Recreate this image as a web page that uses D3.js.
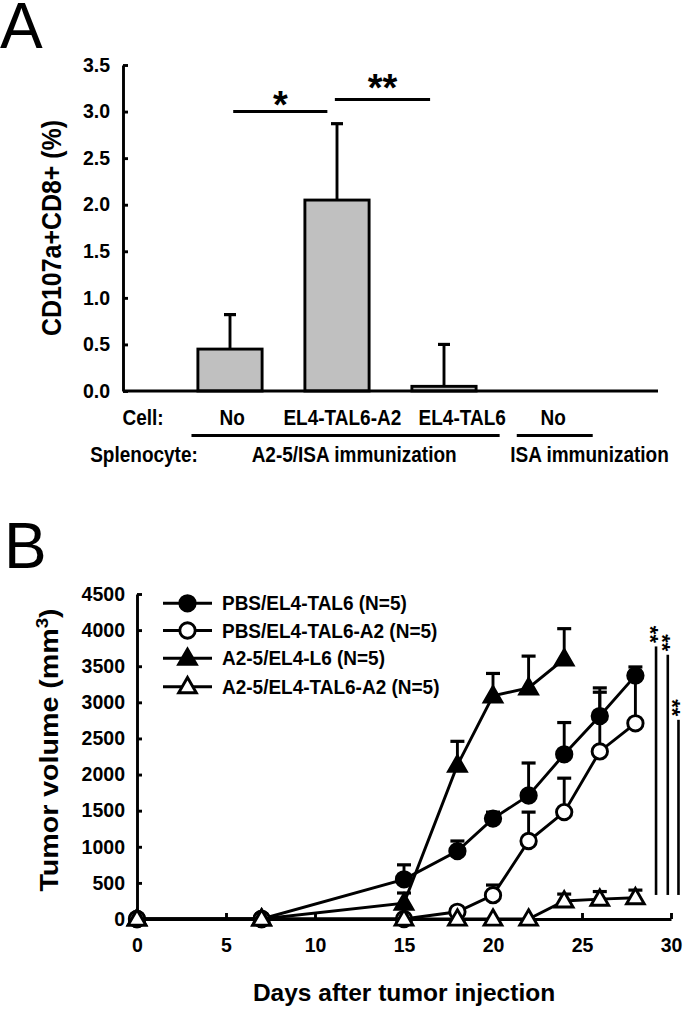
<!DOCTYPE html>
<html><head><meta charset="utf-8">
<script src="https://cdn.jsdelivr.net/npm/d3@7"></script>
<style>
html,body{margin:0;padding:0;background:#fff;}
svg{display:block;}
text{font-family:"Liberation Sans",Arial,sans-serif;font-weight:bold;fill:#000;}
</style></head>
<body>
<script>
// ---------- Panel A data ----------
const catLabels = ["No", "EL4-TAL6-A2", "EL4-TAL6", "No"];
const catLabelPos = [1.02, 2.05, 3.17, 4.02];
const barPos = [1, 2, 3, 4];
const barValues = [0.45, 2.05, 0.05, 0];
const barErrors = [0.37, 0.82, 0.45, 0];
const yTicksA = [0, 0.5, 1.0, 1.5, 2.0, 2.5, 3.0, 3.5];
const groupLabels = ["A2-5/ISA immunization", "ISA immunization"];
const groupStart = [0.64, 3.68];
const groupEnd = [3.52, 4.39];
const groupLabelPos = [2.16, 4.36];
const sigA = [
  {x1: 1.03, x2: 1.91, y: 3.0, label: "*"},
  {x1: 1.98, x2: 2.87, y: 3.13, label: "**"}
];

// ---------- Panel B data ----------
const days = [0, 7, 15, 18, 20, 22, 24, 26, 28];
const daysL6 = [0, 7, 15, 18, 20, 22, 24];
const pbsTal6 = [0, 0, 550, 940, 1390, 1710, 2280, 2810, 3370];
const pbsTal6Err = [0, 0, 200, 140, 90, 450, 440, 390, 120];
const pbsTal6A2 = [0, 0, 0, 100, 330, 1080, 1480, 2320, 2710];
const pbsTal6A2Err = [0, 0, 0, 0, 140, 400, 470, 820, 700];
const a25L6 = [0, 0, 220, 2130, 3090, 3200, 3600];
const a25L6Err = [0, 0, 140, 330, 310, 440, 420];
const a25Tal6A2 = [0, 0, 0, 0, 0, 0, 250, 275, 295];
const a25Tal6A2Err = [0, 0, 0, 0, 0, 0, 95, 105, 105];
const seriesNames = ["PBS/EL4-TAL6 (N=5)", "PBS/EL4-TAL6-A2 (N=5)", "A2-5/EL4-L6 (N=5)", "A2-5/EL4-TAL6-A2 (N=5)"];
const yTicksB = [0, 500, 1000, 1500, 2000, 2500, 3000, 3500, 4000, 4500];
const xTicksB = [0, 5, 10, 15, 20, 25, 30];
const sigB = [
  {x: 29.16, top: 3774, bottom: 333, label: "**"},
  {x: 29.82, top: 3659, bottom: 333, label: "**"},
  {x: 30.42, top: 2758, bottom: 333, label: "**"}
];

const W = 684, H = 1010;
const SW = 2.9;
const svg = d3.select("body").append("svg").attr("width", W).attr("height", H);

function txt(g, x, y, s, o) {
  o = o || {};
  let tr = `translate(${x},${y})`;
  if (o.rot) tr += ` rotate(${o.rot})`;
  tr += ` scale(${o.sx || 1},${o.sy || 1})`;
  return g.append("text").attr("transform", tr)
    .attr("text-anchor", o.anchor || "start")
    .style("font-size", (o.size || 19) + "px")
    .style("font-weight", o.weight || "bold")
    .text(s);
}

// Panel letters
txt(svg, 0, 48, "A", {size: 64, weight: "normal"});
txt(svg, 4, 568, "B", {size: 64, weight: "normal"});

// ---------- Panel A ----------
const xA = d3.scaleLinear().domain([0, 5]).range([123, 658]);
const yA = d3.scaleLinear().domain([0, 3.5]).range([391, 65]);
const gA = svg.append("g");

const axA = gA.append("g").attr("transform", `translate(${xA(0)},0)`)
  .call(d3.axisLeft(yA).tickValues(yTicksA).tickSize(-5).tickSizeOuter(0)
    .tickPadding(13).tickFormat(d3.format(".1f")));
axA.select(".domain").attr("stroke-width", SW);
axA.selectAll(".tick line").attr("stroke-width", SW);
axA.selectAll(".tick text").style("font-size", "19.5px").attr("font-family", null);

// error bars (behind bars)
const bw = 0.6;
barPos.forEach((p, i) => {
  if (barErrors[i] > 0) {
    const top = barValues[i] + barErrors[i];
    gA.append("line").attr("x1", xA(p)).attr("x2", xA(p))
      .attr("y1", yA(barValues[i])).attr("y2", yA(top))
      .attr("stroke", "#000").attr("stroke-width", SW);
    gA.append("line").attr("x1", xA(p) - 6).attr("x2", xA(p) + 6)
      .attr("y1", yA(top)).attr("y2", yA(top))
      .attr("stroke", "#000").attr("stroke-width", 3.2);
  }
});
gA.selectAll("rect.bar").data(barPos).enter().append("rect")
  .attr("x", (d) => xA(d - bw / 2)).attr("width", xA(bw) - xA(0))
  .attr("y", (d, i) => yA(barValues[i]))
  .attr("height", (d, i) => yA(0) - yA(barValues[i]))
  .attr("fill", "#c0c0c0").attr("stroke", "#000").attr("stroke-width", SW);

// x axis line
gA.append("line").attr("x1", xA(0)).attr("x2", xA(5)).attr("y1", yA(0)).attr("y2", yA(0))
  .attr("stroke", "#000").attr("stroke-width", 3.1);

// significance
sigA.forEach((s) => {
  gA.append("line").attr("x1", xA(s.x1)).attr("x2", xA(s.x2))
    .attr("y1", yA(s.y)).attr("y2", yA(s.y)).attr("stroke", "#000").attr("stroke-width", SW);
  const off = s.label.length === 1 ? 6 : 2;
  txt(gA, (xA(s.x1) + xA(s.x2)) / 2, yA(s.y) + off, s.label, {size: 38, anchor: "middle"});
});

// y title
txt(gA, 61, 228, "CD107a+CD8+ (%)", {size: 28, sx: 0.89, rot: -90, anchor: "middle"});

// category labels
txt(gA, 143, 425, "Cell:", {size: 19, anchor: "middle", sy: 1.12});
catLabels.forEach((c, i) => txt(gA, xA(catLabelPos[i]), 425, c, {size: 19, anchor: "middle", sy: 1.12}));
groupStart.forEach((s, i) => {
  gA.append("line").attr("x1", xA(s)).attr("x2", xA(groupEnd[i])).attr("y1", 435.5).attr("y2", 435.5)
    .attr("stroke", "#000").attr("stroke-width", 3.1);
});
txt(gA, 144, 462, "Splenocyte:", {size: 19, anchor: "middle", sy: 1.12});
groupLabels.forEach((l, i) => txt(gA, xA(groupLabelPos[i]), 462, l, {size: 19, anchor: "middle", sy: 1.12}));

// ---------- Panel B ----------
const xB = d3.scaleLinear().domain([0, 30]).range([137, 671]);
const yB = d3.scaleLinear().domain([0, 4500]).range([919, 594]);
const gB = svg.append("g");

const axBy = gB.append("g").attr("transform", `translate(${xB(0)},0)`)
  .call(d3.axisLeft(yB).tickValues(yTicksB).tickSize(-5).tickSizeOuter(0).tickPadding(12)
    .tickFormat(d3.format("d")));
const axBx = gB.append("g").attr("transform", `translate(0,${yB(0)})`)
  .call(d3.axisBottom(xB).tickValues(xTicksB).tickSize(-6).tickSizeOuter(0).tickPadding(19)
    .tickFormat(d3.format("d")));
[axBy, axBx].forEach((a) => {
  a.select(".domain").attr("stroke-width", SW);
  a.selectAll(".tick line").attr("stroke-width", SW);
  a.selectAll(".tick text").style("font-size", "19.5px").attr("font-family", null);
});

const series = [
  {x: days, y: pbsTal6, e: pbsTal6Err, shape: "circle", fill: "#000"},
  {x: days, y: pbsTal6A2, e: pbsTal6A2Err, shape: "circle", fill: "#fff"},
  {x: daysL6, y: a25L6, e: a25L6Err, shape: "triangle", fill: "#000"},
  {x: days, y: a25Tal6A2, e: a25Tal6A2Err, shape: "triangle", fill: "#fff"}
];
const tri = d3.symbol().type(d3.symbolTriangle).size(135);
function marker(g, shape, fill, x, y) {
  if (shape === "circle") {
    g.append("circle").attr("cx", x).attr("cy", y).attr("r", 7.7)
      .attr("fill", fill).attr("stroke", "#000").attr("stroke-width", SW);
  } else {
    g.append("path").attr("d", tri).attr("transform", `translate(${x},${y + 1})`)
      .attr("fill", fill).attr("stroke", "#000").attr("stroke-width", SW).attr("stroke-linejoin", "miter");
  }
}
const line = d3.line().x((d) => xB(d[0])).y((d) => yB(d[1]));
series.forEach((s) => {
  const g = gB.append("g");
  const pts = s.x.map((d, i) => [d, s.y[i]]);
  s.x.forEach((d, i) => {
    if (s.e[i] > 0) {
      const top = s.y[i] + s.e[i];
      g.append("line").attr("x1", xB(d)).attr("x2", xB(d)).attr("y1", yB(s.y[i])).attr("y2", yB(top))
        .attr("stroke", "#000").attr("stroke-width", SW);
      g.append("line").attr("x1", xB(d) - 7).attr("x2", xB(d) + 7).attr("y1", yB(top)).attr("y2", yB(top))
        .attr("stroke", "#000").attr("stroke-width", 3.2);
    }
  });
  g.append("path").datum(pts).attr("d", line).attr("fill", "none")
    .attr("stroke", "#000").attr("stroke-width", SW);
  pts.forEach((p) => marker(g, s.shape, s.fill, xB(p[0]), yB(p[1])));
});

// legend
const legY = [603.3, 630.5, 658.3, 686.7];
series.forEach((s, i) => {
  const g = gB.append("g");
  g.append("line").attr("x1", 163).attr("x2", 212).attr("y1", legY[i]).attr("y2", legY[i])
    .attr("stroke", "#000").attr("stroke-width", SW);
  marker(g, s.shape, s.fill, 187.5, legY[i]);
  txt(g, 222, legY[i] + 7, seriesNames[i], {size: 19, sy: 1.06});
});

// significance lines B
sigB.forEach((s) => {
  gB.append("line").attr("x1", xB(s.x)).attr("x2", xB(s.x)).attr("y1", yB(s.top)).attr("y2", yB(s.bottom))
    .attr("stroke", "#000").attr("stroke-width", 2.6);
  txt(gB, xB(s.x) - 13, yB(s.top) - 12, s.label, {size: 22, rot: 90, anchor: "middle"});
});

// titles B
const ty = txt(gB, 58, 750, "", {size: 26, sx: 1.1, rot: -90, anchor: "middle"});
ty.append("tspan").text("Tumor volume (mm");
ty.append("tspan").attr("baseline-shift", "super").style("font-size", "17px").text("3");
ty.append("tspan").text(")");
txt(gB, 404, 1001, "Days after tumor injection", {size: 24.5, anchor: "middle"});
</script>
</body></html>
